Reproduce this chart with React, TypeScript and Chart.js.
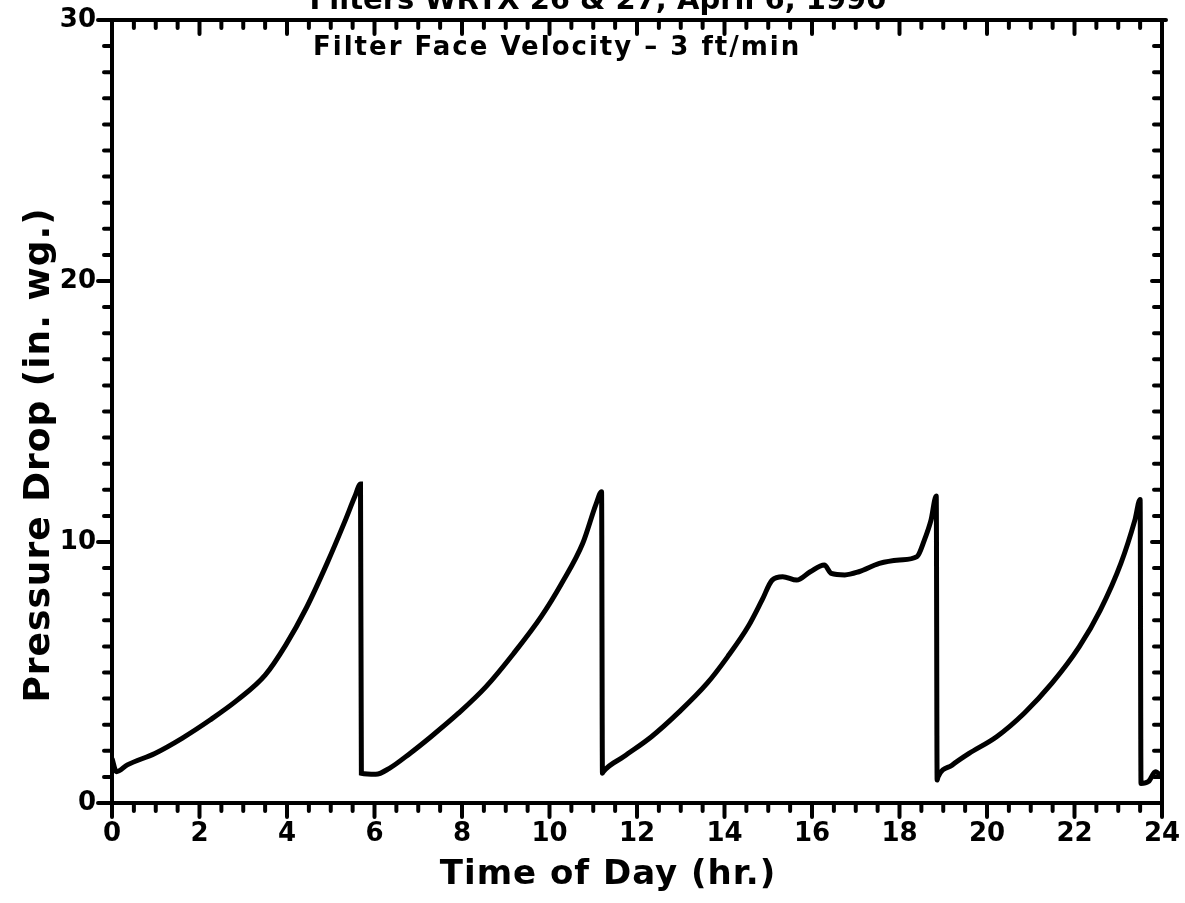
import React, { useEffect, useRef } from "react";
import { Chart, registerables } from "chart.js";

Chart.register(...registerables);

const hours: number[] = [
  0, 0.1, 0.35, 0.98, 1.6, 2.24, 2.87, 3.5, 3.97, 4.45, 4.92, 5.32, 5.55, 5.68,
  5.7, 6.03, 6.34, 6.81, 7.29, 7.92, 8.55, 9.18, 9.81, 10.28, 10.76, 11.07, 11.19,
  11.21, 11.23, 11.7, 12.33, 12.97, 13.6, 14.07, 14.54, 14.86, 15.09, 15.33, 15.65,
  15.96, 16.28, 16.44, 16.75, 17.07, 17.54, 18.0, 18.4, 18.57, 18.72, 18.84,
  18.86, 18.88, 19.2, 19.59, 20.22, 20.85, 21.48, 22.11, 22.59, 23.06, 23.38, 23.5,
  23.52, 23.69, 23.85, 24.0,
];
const pressure: number[] = [
  1.7, 1.2, 1.46, 1.9, 2.48, 3.18, 3.95, 4.9, 6.05, 7.5, 9.2, 10.78, 11.74, 12.22,
  1.14, 1.1, 1.33, 1.9, 2.54, 3.44, 4.46, 5.73, 7.14, 8.42, 9.95, 11.48, 11.93,
  1.14, 1.2, 1.78, 2.54, 3.5, 4.58, 5.6, 6.76, 7.78, 8.54, 8.67, 8.54,
  8.86, 9.12, 8.8, 8.74, 8.86, 9.18, 9.31, 9.44, 10.08, 10.84, 11.76,
  0.88, 1.0, 1.45, 1.9, 2.54, 3.44, 4.58, 5.99, 7.39, 9.18, 10.84, 11.63,
  0.75, 0.82, 1.2, 1.0,
];
const xTickLabels: number[] = [0, 2, 4, 6, 8, 10, 12, 14, 16, 18, 20, 22, 24];
const yTickLabels: number[] = [0, 10, 20, 30];

const titleText = "Filters WRTX 26 & 27, April 6, 1990";
const noteText = "Filter Face Velocity \u2013 3 ft/min";
const xTitle = "Time of Day (hr.)";
const yTitle = "Pressure Drop (in. wg.)";

const FONT = '"DejaVu Sans", sans-serif';

const framePlugin = {
  id: "frame",
  afterDraw(chart: any) {
    const ctx = chart.ctx as any;
    const xs = chart.scales.x;
    const ys = chart.scales.y;
    const L = chart.chartArea.left;
    const R = chart.chartArea.right;
    const T = chart.chartArea.top;
    const B = chart.chartArea.bottom;
    ctx.save();
    ctx.strokeStyle = "#000";
    ctx.fillStyle = "#000";
    ctx.lineCap = "round";
    ctx.lineWidth = 4;
    // frame
    ctx.beginPath();
    ctx.moveTo(L - 8, T);
    ctx.lineTo(R + 4, T);
    ctx.moveTo(L, T);
    ctx.lineTo(L, B + 12);
    ctx.moveTo(L - 8, B);
    ctx.lineTo(R, B);
    ctx.moveTo(R, T);
    ctx.lineTo(R, B);
    ctx.stroke();
    // x ticks
    for (let h = 0; h <= 24.001; h += 0.5) {
      const px = xs.getPixelForValue(h);
      const major = Math.abs(h / 2 - Math.round(h / 2)) < 1e-6;
      const len = major ? 14 : 8;
      ctx.beginPath();
      ctx.moveTo(px, B);
      ctx.lineTo(px, B + len);
      ctx.moveTo(px, T);
      ctx.lineTo(px, T + len);
      ctx.stroke();
    }
    // y ticks
    for (let v = 0; v <= 30.001; v += 1) {
      const py = ys.getPixelForValue(v);
      const major = v % 10 === 0;
      const len = major ? 14 : 8;
      ctx.beginPath();
      ctx.moveTo(L, py);
      ctx.lineTo(L - len, py);
      ctx.moveTo(R, py);
      ctx.lineTo(R - (major ? 10 : 8), py);
      ctx.stroke();
    }
    // tick labels
    ctx.font = `bold 26px ${FONT}`;
    ctx.letterSpacing = "0px";
    ctx.textAlign = "center";
    ctx.textBaseline = "top";
    for (const h of xTickLabels) {
      ctx.fillText(String(h), xs.getPixelForValue(h), B + 18);
    }
    ctx.textAlign = "right";
    ctx.textBaseline = "middle";
    for (const v of yTickLabels) {
      ctx.fillText(String(v), L - 16, ys.getPixelForValue(v));
    }
    // axis titles
    ctx.font = `bold 34px ${FONT}`;
    ctx.letterSpacing = "1px";
    ctx.textAlign = "center";
    ctx.textBaseline = "middle";
    ctx.fillText(xTitle, 608, 875);
    ctx.save();
    ctx.font = `bold 36px ${FONT}`;
    ctx.translate(40, 455);
    ctx.rotate(-Math.PI / 2);
    ctx.fillText(yTitle, 0, 0);
    ctx.restore();
    // note
    ctx.font = `bold 26px ${FONT}`;
    ctx.letterSpacing = "2px";
    ctx.textAlign = "left";
    ctx.textBaseline = "middle";
    ctx.fillText(noteText, 313, 48);
    // title (cut at top)
    ctx.font = `bold 29px ${FONT}`;
    ctx.letterSpacing = "0px";
    ctx.textAlign = "center";
    ctx.textBaseline = "alphabetic";
    ctx.fillText(titleText, 598, 9);
    ctx.restore();
  },
};

export default function App() {
  const ref = useRef<HTMLCanvasElement | null>(null);
  useEffect(() => {
    document.body.style.margin = "0";
    const canvas = ref.current!;
    const data = hours.map((h, i) => ({ x: h, y: pressure[i] }));
    const chart = new Chart(canvas, {
      type: "line",
      data: {
        datasets: [
          {
            data,
            borderColor: "#000",
            borderWidth: 5,
            pointRadius: 0,
            cubicInterpolationMode: "monotone",
            fill: false,
          },
        ],
      },
      options: {
        animation: false,
        responsive: false,
        maintainAspectRatio: false,
        layout: { padding: { left: 112, right: 23, top: 20, bottom: 100 } },
        plugins: { legend: { display: false }, tooltip: { enabled: false } },
        scales: {
          x: { type: "linear", min: 0, max: 24, display: false },
          y: { type: "linear", min: 0, max: 30, display: false },
        },
      },
      plugins: [framePlugin],
    });
    return () => chart.destroy();
  }, []);
  return (
    <div style={{ width: 1185, height: 903, background: "#fff" }}>
      <canvas ref={ref} width={1185} height={903} style={{ display: "block" }} />
    </div>
  );
}
